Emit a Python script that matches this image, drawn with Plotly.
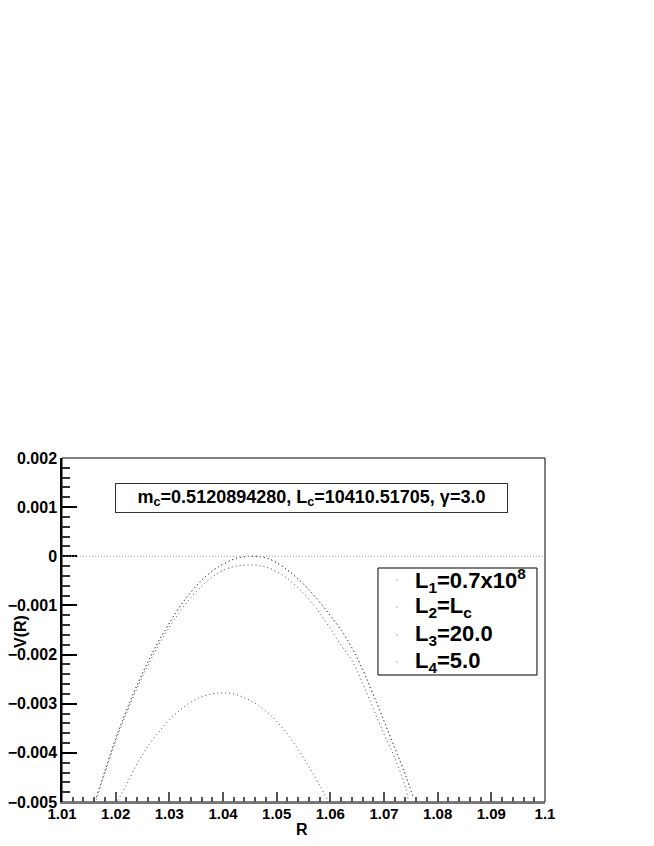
"""Effective potential V(R) near the critical angular momentum, ROOT-style canvas."""

import plotly.graph_objects as go

FONT = "Liberation Sans"

# outer curves (L1 and L2 coincide at this scale)
R_L1 = [1.0164, 1.0180, 1.0200, 1.0220, 1.0240, 1.0260, 1.0280, 1.0300, 1.0320,
        1.0340, 1.0360, 1.0380, 1.0400, 1.0420, 1.0440, 1.0460, 1.0480, 1.0500,
        1.0520, 1.0540, 1.0560, 1.0580, 1.0600, 1.0620, 1.0640, 1.0660, 1.0680,
        1.0700, 1.0720, 1.0740, 1.0755]
V_L1 = [-0.00490, -0.00437, -0.00371, -0.00314, -0.00262, -0.00215, -0.00173,
        -0.00136, -0.00102, -0.00073, -0.00049, -0.00030, -0.00016, -0.00006,
        -0.00001, 0.00000, -0.00003, -0.00013, -0.00028, -0.00046, -0.00068,
        -0.00093, -0.00121, -0.00150, -0.00186, -0.00230, -0.00282, -0.00335,
        -0.00390, -0.00445, -0.00492]
R_L2 = list(R_L1)
V_L2 = list(V_L1)

R_L3 = [1.0164, 1.0180, 1.0200, 1.0220, 1.0240, 1.0260, 1.0280, 1.0300, 1.0320,
        1.0340, 1.0360, 1.0380, 1.0400, 1.0420, 1.0440, 1.0460, 1.0480, 1.0500,
        1.0520, 1.0540, 1.0560, 1.0580, 1.0600, 1.0620, 1.0640, 1.0660, 1.0680,
        1.0700, 1.0720, 1.0740, 1.0745]
V_L3 = [-0.00495, -0.00441, -0.00376, -0.00319, -0.00268, -0.00222, -0.00181,
        -0.00144, -0.00112, -0.00084, -0.00061, -0.00042, -0.00029, -0.00021,
        -0.00018, -0.00018, -0.00022, -0.00031, -0.00045, -0.00064, -0.00087,
        -0.00115, -0.00147, -0.00181, -0.00212, -0.00258, -0.00310, -0.00362,
        -0.00410, -0.00470, -0.00495]

R_L4 = [1.0204, 1.0220, 1.0240, 1.0260, 1.0280, 1.0300, 1.0320, 1.0340, 1.0360,
        1.0380, 1.0400, 1.0420, 1.0440, 1.0460, 1.0480, 1.0500, 1.0520, 1.0540,
        1.0560, 1.0580, 1.0596]
V_L4 = [-0.00497, -0.00465, -0.00422, -0.00387, -0.00358, -0.00333, -0.00313,
        -0.00297, -0.00286, -0.00280, -0.00278, -0.00280, -0.00288, -0.00299,
        -0.00315, -0.00336, -0.00362, -0.00393, -0.00428, -0.00466, -0.00498]

NAMES = ["L<sub>1</sub>=0.7x10<sup>8</sup>", "L<sub>2</sub>=L<sub>c</sub>",
         "L<sub>3</sub>=20.0", "L<sub>4</sub>=5.0"]

X_TICKS = [1.01, 1.02, 1.03, 1.04, 1.05, 1.06, 1.07, 1.08, 1.09, 1.10]
X_LABELS = ["1.01", "1.02", "1.03", "1.04", "1.05", "1.06", "1.07", "1.08", "1.09", "1.1"]
Y_TICKS = [0.002, 0.001, 0.0, -0.001, -0.002, -0.003, -0.004, -0.005]
Y_LABELS = ["0.002", "0.001", "0", "\u22120.001", "\u22120.002", "\u22120.003",
            "\u22120.004", "\u22120.005"]

BOX_TEXT = "m<sub>c</sub>=0.5120894280, L<sub>c</sub>=10410.51705, \u03b3=3.0"

# the page body adds an 8px margin, so the figure is 8px smaller on each side
fig = go.Figure()
for name, rr, vv in zip(NAMES, [R_L1, R_L2, R_L3, R_L4], [V_L1, V_L2, V_L3, V_L4]):
    fig.add_trace(go.Scatter(
        x=rr, y=vv, name=name, mode="lines", showlegend=False,
        line=dict(color="#4a4a4a", width=1, dash="1px,3px", shape="spline"),
    ))

# dotted V = 0 reference line
fig.add_shape(type="line", x0=X_TICKS[0], x1=X_TICKS[-1], y0=0, y1=0,
              line=dict(color="#999999", width=1, dash="1px,2px"))
# frame
fig.add_shape(type="rect", xref="paper", yref="paper", x0=0, x1=1, y0=0, y1=1,
              line=dict(color="black", width=1), layer="below")

# parameter box
fig.add_annotation(
    text=BOX_TEXT, xref="paper", yref="paper", x=0.5166, y=0.884,
    xanchor="center", yanchor="middle", showarrow=False,
    width=385, height=22, borderpad=3,
    bordercolor="#333333", borderwidth=1, bgcolor="white",
    font=dict(family=FONT, size=18, color="black", weight="bold"),
)

# legend drawn by hand (ROOT TLegend look)
fig.add_shape(type="rect", xref="paper", yref="paper",
              x0=0.6542, x1=0.9834, y0=0.3692, y1=0.6802,
              line=dict(color="black", width=1), fillcolor="white")
legend_rows = [0.6453, 0.5669, 0.4855, 0.4070]
for name, yy in zip(NAMES, legend_rows):
    fig.add_annotation(text=name, xref="paper", yref="paper", x=0.7267, y=yy,
                       xanchor="left", yanchor="middle", showarrow=False,
                       font=dict(family=FONT, size=22, color="black", weight="bold"))
    fig.add_shape(type="circle", xref="paper", yref="paper",
                  x0=0.6923, x1=0.6944, y0=yy - 0.0015, y1=yy + 0.0015,
                  line=dict(color="#aaaaaa", width=0.5), fillcolor="#aaaaaa")

fig.add_annotation(text="R", xref="paper", yref="paper", x=0.497, y=-0.081,
                   xanchor="center", yanchor="middle", showarrow=False,
                   font=dict(family=FONT, size=16, color="black", weight="bold"))
fig.add_annotation(text="V(R)", xref="paper", yref="paper", x=-0.087, y=0.497,
                   xanchor="center", yanchor="middle", showarrow=False, textangle=-90,
                   font=dict(family=FONT, size=16, color="black", weight="bold"))

fig.update_layout(
    width=646, height=838,
    margin=dict(l=54, r=109, t=450, b=44),
    paper_bgcolor="white", plot_bgcolor="white",
    showlegend=False,
    xaxis=dict(
        range=[1.01, 1.1], tickvals=X_TICKS, ticktext=X_LABELS, automargin=False,
        ticks="inside", ticklen=10, tickwidth=1.5, tickcolor="#555555",
        minor=dict(ticks="inside", ticklen=5, tickwidth=1.5, tickcolor="#555555",
                   dtick=0.002, tick0=1.01, showgrid=False),
        showgrid=False, zeroline=False, showline=True,
        linecolor="#777777", linewidth=2, ticklabelstandoff=-3,
        tickfont=dict(family=FONT, size=15, color="black", weight="bold"),
    ),
    yaxis=dict(
        range=[-0.005, 0.002], tickvals=Y_TICKS, ticktext=Y_LABELS, automargin=False,
        ticks="inside", ticklen=15, tickwidth=1.5, tickcolor="black",
        minor=dict(ticks="inside", ticklen=8, tickwidth=1.5, tickcolor="#333333",
                   dtick=0.0002, tick0=0, showgrid=False),
        showgrid=False, zeroline=False, showline=True,
        linecolor="black", linewidth=1.5,
        tickfont=dict(family=FONT, size=16, color="black", weight="bold"),
    ),
)

fig.write_html("out.html")
